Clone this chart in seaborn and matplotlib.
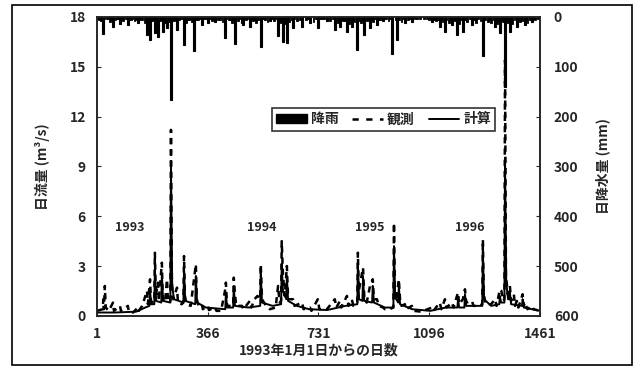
import matplotlib
matplotlib.use("Agg")
import matplotlib.pyplot as plt
from matplotlib.patches import Patch, Rectangle
from matplotlib.lines import Line2D
import seaborn as sns
import pandas as pd

# daily rainfall events (day, mm)
rain_days = [20, 54, 77, 103, 136, 166, 176, 192, 202, 219, 232, 245, 265, 288, 321,
             347, 367, 390, 423, 456, 479, 482, 505, 541, 571, 598, 614, 627, 647, 677,
             703, 729, 759, 785, 802, 825, 841, 858, 881, 901, 924, 944, 973, 990, 1016,
             1039, 1105, 1131, 1148, 1171, 1187, 1207, 1237, 1273, 1313, 1329, 1346, 1362,
             1385, 1411, 1434]
rain_mm = [34, 20, 14, 16, 12, 36, 46, 32, 40, 30, 22, 167, 26, 56, 68,
           16, 12, 10, 42, 54, 12, 16, 20, 60, 8, 38, 50, 52, 22, 20,
           12, 22, 8, 26, 20, 30, 20, 66, 36, 22, 16, 8, 74, 46, 12,
           10, 10, 20, 30, 16, 36, 30, 16, 78, 20, 32, 140, 30,
           20, 16, 10]

# the many small showers that make the dark band along the top
small_days = [8, 14, 33, 45, 62, 70, 88, 95, 112, 125, 145, 158, 170, 183, 197, 208, 225,
              238, 255, 272, 295, 305, 315, 335, 355, 380, 400, 415, 435, 445, 465, 492,
              515, 525, 533, 555, 563, 585, 605, 620, 635, 660, 690, 715, 742, 770, 795,
              812, 832, 850, 870, 890, 912, 935, 955, 962, 1005, 1025, 1055, 1080, 1095,
              1118, 1140, 1160, 1180, 1195, 1222, 1250, 1265, 1290, 1300, 1320, 1338,
              1355, 1370, 1395, 1420, 1445]
small_mm = [6, 8, 5, 10, 6, 4, 8, 5, 6, 9, 7, 12, 10, 8, 14, 9, 12,
            10, 8, 6, 12, 7, 10, 6, 5, 8, 6, 10, 6, 12, 8, 6,
            9, 12, 7, 6, 10, 8, 12, 14, 10, 8, 6, 10, 5, 8, 12,
            9, 14, 10, 12, 8, 10, 6, 5, 8, 10, 6, 4, 5, 6,
            8, 10, 12, 8, 14, 10, 12, 8, 10, 12, 14, 10,
            12, 14, 10, 12, 6]
tiny_days = [4, 26, 39, 50, 66, 83, 99, 108, 118, 131, 141, 151, 162, 180, 187, 212, 229,
             250, 260, 278, 300, 310, 328, 341, 361, 374, 386, 406, 428, 440, 450, 470,
             487, 497, 510, 520, 548, 578, 592, 609, 631, 642, 652, 670, 697, 722, 735,
             750, 778, 790, 807, 818, 837, 846, 864, 876, 895, 906, 918, 930, 949, 968,
             985, 996, 1010, 1032, 1048, 1065, 1088, 1100, 1112, 1125, 1135, 1152, 1166,
             1176, 1190, 1201, 1214, 1230, 1244, 1257, 1280, 1295, 1308, 1325, 1334,
             1350, 1366, 1377, 1390, 1402, 1416, 1428, 1440, 1455]
tiny_mm = [4, 5, 4, 6, 4, 5, 4, 6, 5, 6, 5, 7, 6, 8, 6, 7, 6,
           8, 6, 5, 6, 5, 6, 4, 4, 5, 4, 6, 5, 7, 6, 5,
           4, 5, 6, 7, 5, 4, 5, 8, 7, 6, 5, 6, 4, 5, 4,
           4, 5, 6, 7, 8, 6, 7, 8, 6, 7, 6, 5, 6, 4, 5,
           6, 7, 5, 4, 4, 4, 5, 5, 6, 6, 7, 6, 5,
           7, 8, 6, 7, 5, 6, 5, 6, 7, 6, 8, 7,
           9, 8, 7, 6, 8, 7, 6, 5, 5]

# observed daily flow (m3/s)
obs_days = [1, 20, 22, 24, 27, 30, 40, 54, 57, 77, 80, 103, 106, 120, 136, 139, 150,
            166, 169, 176, 179, 185, 190, 192, 195, 202, 205, 215, 218, 225, 232, 235, 240,
            243, 245, 248, 252, 265, 268, 280, 286, 288, 291, 296, 310, 321, 327, 330, 336,
            347, 350, 367, 370, 390, 395, 410, 423, 426, 430, 450, 452, 456, 460, 479, 484,
            505, 510, 520, 530, 539, 541, 545, 555, 571, 590, 598, 603, 608, 610, 614, 620,
            627, 631, 647, 652, 677, 682, 703, 708, 729, 734, 759, 785, 790, 802, 806, 825,
            830, 841, 846, 850, 859, 861, 864, 878, 882, 890, 901, 910, 914, 924, 930, 944,
            950, 965, 978, 980, 983, 988, 996, 1000, 1005, 1016, 1020, 1039, 1045, 1070,
            1105, 1110, 1131, 1136, 1148, 1153, 1171, 1176, 1191, 1195, 1207, 1214, 1218,
            1237, 1242, 1260, 1271, 1273, 1276, 1282, 1300, 1313, 1318, 1329, 1334, 1340,
            1344, 1346, 1349, 1355, 1362, 1366, 1375, 1379, 1385, 1390, 1404, 1408, 1411,
            1420, 1434, 1440, 1461]
obs_flow = [0.3, 0.4, 1.0, 0.4, 1.8, 0.5, 0.3, 0.8, 0.3, 0.6, 0.3, 0.6, 0.25, 0.2, 0.5, 0.3, 0.6,
            1.5, 0.7, 2.2, 0.9, 0.8, 0.8, 3.8, 1.2, 2.0, 0.9, 3.2, 1.0, 0.8, 2.2, 0.9, 0.8,
            0.9, 11.2, 2.0, 1.0, 1.7, 0.8, 0.7, 0.8, 3.6, 1.2, 0.7, 0.6, 2.2, 3.1, 1.0, 0.6,
            0.7, 0.4, 0.6, 0.35, 0.5, 0.3, 0.3, 1.5, 2.0, 0.6, 0.6, 2.3, 1.3, 0.6, 0.6, 0.4,
            0.9, 0.5, 1.0, 1.2, 1.0, 3.1, 1.0, 0.7, 0.4, 0.5, 1.8, 0.8, 0.9, 4.5, 2.5, 1.2,
            3.0, 1.0, 1.0, 0.6, 0.8, 0.4, 0.5, 0.3, 1.0, 0.4, 0.4, 1.0, 0.5, 0.9, 0.5, 1.2,
            0.6, 1.0, 0.6, 0.7, 0.8, 3.8, 1.5, 2.9, 1.2, 0.8, 1.8, 2.2, 1.0, 1.0, 0.6, 0.5,
            0.4, 0.4, 0.5, 5.6, 1.6, 0.9, 2.2, 1.0, 0.6, 0.7, 0.4, 0.6, 0.3, 0.25,
            0.5, 0.3, 0.8, 0.4, 1.0, 0.5, 0.8, 0.5, 1.4, 0.7, 1.0, 1.6, 0.8,
            0.9, 0.6, 0.6, 0.7, 4.6, 1.3, 0.7, 0.7, 1.0, 0.6, 1.6, 1.5, 0.9,
            1.0, 15.4, 2.5, 1.3, 1.8, 0.9, 1.3, 0.6, 0.9, 0.5, 1.3, 0.6, 0.8,
            0.4, 0.6, 0.4, 0.3]

# computed daily flow (m3/s)
sim_days = [1, 60, 130, 160, 174, 176, 180, 190, 192, 196, 213, 215, 219, 243, 245, 249,
            255, 286, 288, 292, 325, 327, 331, 360, 424, 426, 430, 450, 452, 456, 500, 539,
            541, 545, 580, 608, 610, 614, 625, 627, 631, 660, 700, 760, 820, 859, 861, 865,
            876, 878, 882, 908, 910, 914, 950, 978, 980, 984, 994, 996, 1000, 1040, 1100,
            1150, 1189, 1191, 1195, 1212, 1214, 1218, 1271, 1273, 1277, 1300, 1327, 1329,
            1333, 1344, 1346, 1350, 1356, 1360, 1362, 1366, 1402, 1404, 1408, 1461]
sim_flow = [0.2, 0.2, 0.25, 0.5, 0.6, 1.5, 0.7, 0.7, 2.8, 0.9, 0.8, 2.5, 0.9, 0.8, 9.0, 1.8,
            1.0, 0.8, 2.8, 0.9, 0.7, 2.4, 0.8, 0.5, 0.4, 1.4, 0.5, 0.5, 1.8, 0.6, 0.5, 0.6,
            2.5, 0.8, 0.6, 0.7, 3.1, 1.5, 1.0, 2.4, 0.9, 0.6, 0.4, 0.35, 0.6, 0.7, 3.2, 1.0,
            0.9, 2.4, 0.9, 0.8, 1.8, 0.8, 0.5, 0.5, 4.2, 1.1, 0.8, 1.8, 0.7, 0.4, 0.3,
            0.5, 0.5, 1.0, 0.5, 0.5, 1.3, 0.6, 0.6, 4.0, 1.0, 0.6, 0.7, 1.2,
            0.8, 0.8, 9.5, 2.0, 1.0, 1.0, 1.4, 0.7, 0.6, 1.0, 0.5, 0.3]

year_labels = ["1993", "1994", "1995", "1996"]
year_days = [110, 545, 900, 1230]
x_ticks = [1, 366, 731, 1096, 1461]

sns.set_style("ticks")
plt.rcParams['font.family'] = ['Noto Sans CJK JP', 'DejaVu Sans']
plt.rcParams['font.weight'] = 'bold'

obs = pd.DataFrame({"day": obs_days, "flow": obs_flow})
sim = pd.DataFrame({"day": sim_days, "flow": sim_flow})

fig = plt.figure(figsize=(6.42, 3.76), dpi=100)
fig.patches.append(Rectangle((0.019, 0.029), 0.965, 0.958, transform=fig.transFigure,
                             fill=False, edgecolor='black', linewidth=1.2))

ax = fig.add_axes([0.151, 0.160, 0.690, 0.795])
sns.lineplot(data=sim, x="day", y="flow", ax=ax, color='black', linewidth=1.4)
sns.lineplot(data=obs, x="day", y="flow", ax=ax, color='black', linewidth=1.8,
             linestyle=(0, (2.5, 2)))
ax.set_xlim(1, 1461)
ax.set_ylim(0, 18)
ax.set_xticks(x_ticks)
ax.set_yticks(range(0, 19, 3))
ax.tick_params(direction='in', length=3, labelsize=10, pad=8)
ax.set_xlabel("1993年1月1日からの日数", fontsize=10, fontweight='bold', labelpad=2)
ax.set_ylabel("日流量 (m³/s)", fontsize=10, fontweight='bold', labelpad=14)
for lab, d in zip(year_labels, year_days):
    ax.text(d, 5.3, lab, ha='center', va='center', fontsize=9, fontweight='bold')

ax2 = ax.twinx()
ax2.bar(tiny_days, tiny_mm, width=6, color='black', edgecolor='black', linewidth=0.6)
ax2.bar(small_days, small_mm, width=6, color='black', edgecolor='black', linewidth=0.6)
ax2.bar(rain_days, rain_mm, width=6, color='black', edgecolor='black', linewidth=0.8)
ax2.set_ylim(600, 0)
ax2.set_yticks(range(0, 601, 100))
ax2.tick_params(direction='in', length=3, labelsize=10, pad=10)
ax2.set_ylabel("日降水量 (mm)", fontsize=10, fontweight='bold', rotation=90, labelpad=12)

for a in (ax, ax2):
    for s in a.spines.values():
        s.set_linewidth(1.2)

handles = [Patch(facecolor='black', edgecolor='black'),
           Line2D([], [], color='black', linewidth=1.8, linestyle=(0, (2.5, 3))),
           Line2D([], [], color='black', linewidth=1.4)]
leg = ax2.legend(handles, ["降雨", "観測", "計算"], ncol=3, loc='center',
                 bbox_to_anchor=(0.647, 0.657), frameon=True, fancybox=False,
                 edgecolor='black', fontsize=10, handlelength=2.2, handletextpad=0.3,
                 columnspacing=1.0, borderpad=0.3)
leg.get_frame().set_linewidth(1.2)

fig.savefig("out.png", dpi=100)
